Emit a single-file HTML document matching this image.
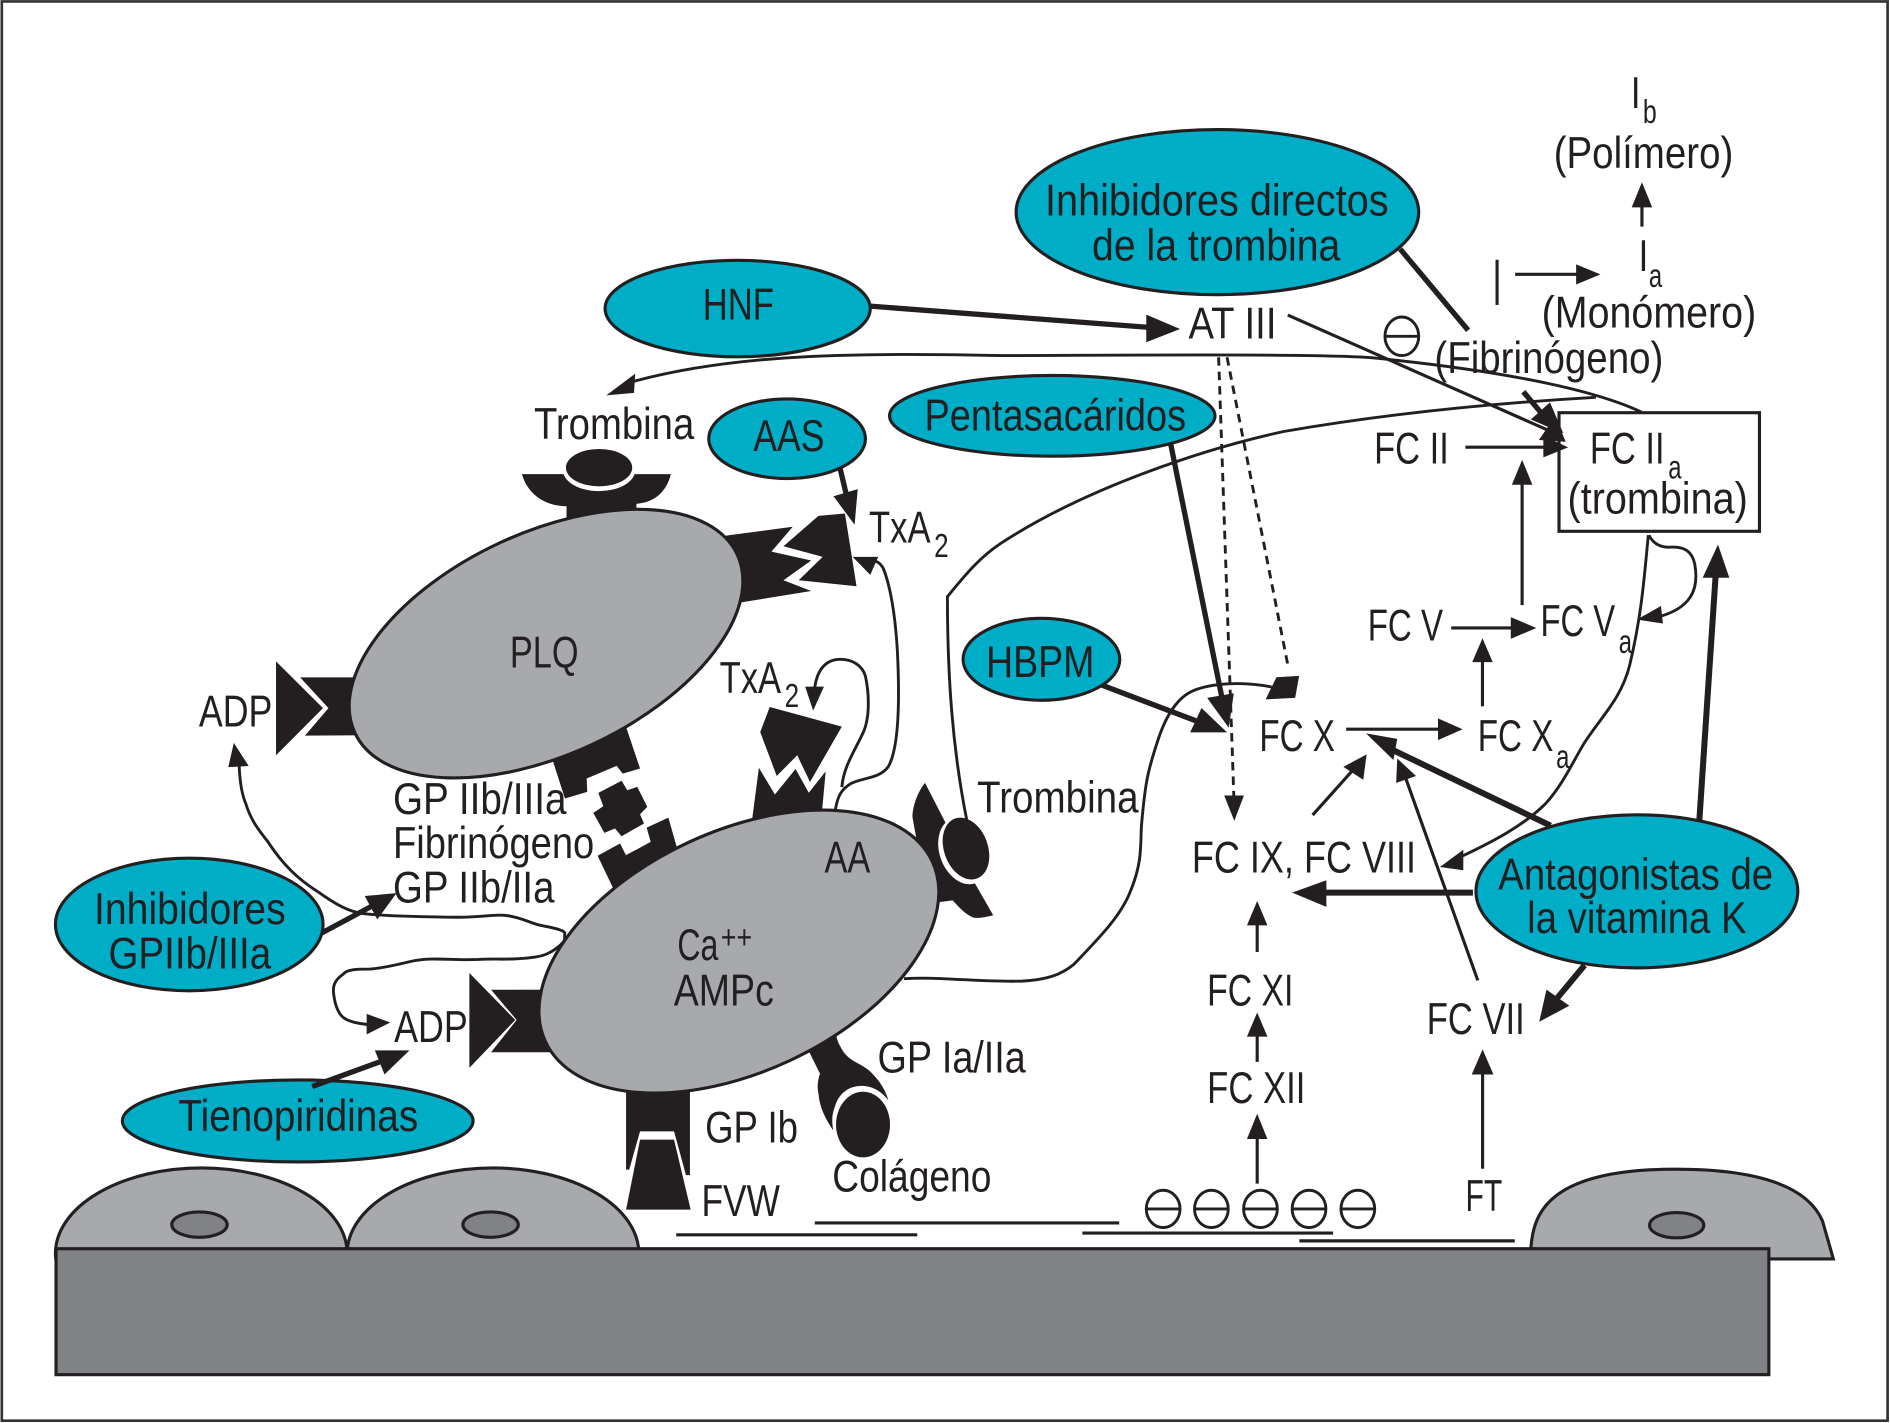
<!DOCTYPE html>
<html lang="es">
<head>
<meta charset="utf-8">
<title>Diagrama de coagulación</title>
<style>
html,body{margin:0;padding:0;background:#fff;}
svg{display:block;width:1890px;height:1423px;}
text{font-family:"Liberation Sans",sans-serif;font-size:37px;fill:#231f20;}
text.s{font-size:28px;}
.k{fill:#231f20;stroke:none;}
.t{fill:none;stroke:#231f20;stroke-width:2.4;}
.m{fill:none;stroke:#231f20;stroke-width:2.6;}
.b{fill:none;stroke:#231f20;stroke-width:4.4;}
.d{fill:none;stroke:#231f20;stroke-width:2.4;stroke-dasharray:7 5;}
.c{fill:#00adc7;stroke:#231f20;stroke-width:2.6;}
.g{fill:#a7a9ac;stroke:#231f20;stroke-width:2.6;}
.n{fill:#808285;stroke:#231f20;stroke-width:2.6;}
.o{fill:none;stroke:#231f20;stroke-width:2.4;}
</style>
</head>
<body>
<svg xmlns="http://www.w3.org/2000/svg" viewBox="0 0 1568 1180.6" preserveAspectRatio="none">
<rect x="0" y="0" width="1568" height="1181" fill="#fff"/>
<rect x="1.5" y="1.2" width="1564.5" height="1177.5" fill="none" stroke="#333" stroke-width="2.2"/>

<!-- endothelium -->
<ellipse class="g" cx="167" cy="1040" rx="121" ry="71"/>
<ellipse class="g" cx="409" cy="1040" rx="121" ry="71"/>
<path class="g" d="M1270 1036C1272 1010 1280 970 1390 970C1460 970 1500 985 1512 1013L1521 1044.5L1467 1044.5Z"/>
<ellipse class="n" cx="165.5" cy="1016" rx="23" ry="10.5"/>
<ellipse class="n" cx="407" cy="1016" rx="23" ry="10.5"/>
<ellipse class="n" cx="1391" cy="1016.5" rx="22.5" ry="10.5"/>
<rect class="n" x="46.5" y="1036" width="1421" height="104.5"/>
<path class="m" d="M561 1024.5H761M676 1014.6H928.5M898 1023H1106M1078 1029.5H1256.7"/>

<!-- negative charges -->
<g class="o">
<ellipse cx="965" cy="1003" rx="14" ry="15.5"/><path d="M951 1003H979"/>
<ellipse cx="1005" cy="1003" rx="14" ry="15.5"/><path d="M991 1003H1019"/>
<ellipse cx="1045.7" cy="1003" rx="14" ry="15.5"/><path d="M1032 1003H1060"/>
<ellipse cx="1086" cy="1003" rx="14" ry="15.5"/><path d="M1072 1003H1100"/>
<ellipse cx="1126.5" cy="1003" rx="14" ry="15.5"/><path d="M1112 1003H1140"/>
<ellipse cx="1163" cy="279" rx="14" ry="16"/><path d="M1149 279H1177"/>
</g>

<!-- receptors behind PLQ -->
<polygon class="k" points="249,562 272.5,587.5 253,610.3 305,610 305,562"/>
<polygon class="k" points="229,548.7 268,587.5 229,626.6"/>
<path class="k" d="M433 393.4L556.6 393.4C553 408 543 417 528 418L528 440L470 440L470 420C450 420 437 408 433 393.4Z"/>
<ellipse cx="497" cy="390" rx="30" ry="17.5" fill="#fff"/>
<ellipse class="k" cx="497" cy="388" rx="27.5" ry="15.5"/>
<polygon class="k" points="603,444.3 657.7,437 640,457.7 673,465 650,481.4 673,490.3 614.8,499.8 590,490 590,450"/>
<polygon class="k" points="679,428 701,426 710.6,486.4 662.6,481.4 682.5,462 650,453.2"/>
<polygon class="k" points="515,590 531,637.6 516.6,641.8 511.6,635.4 486.7,645.9 487.2,657 468.7,662.5 455,620"/>
<polygon class="k" points="515.7,647.8 520.4,655.6 528.7,652.8 537,669.4 531,675.5 534.3,683.2 515.7,693.8 510.2,687.4 501.4,691 492.2,674.4 500.5,668.9 496.4,657.8"/>

<ellipse class="g" cx="453" cy="534" rx="175" ry="92" transform="rotate(-25 453 534)"/>

<!-- receptors behind AA -->
<polygon class="k" points="554.5,678.3 561.4,702.6 568,720 515,750 508.8,737.2 495.8,710 514.4,699.8 519.3,709.5 539.8,698.5 536.5,686.6"/>
<polygon class="k" points="638.6,586.6 698.4,602.9 672,648.8 661.4,626.6 644.4,643.8 630.7,607.4"/>
<polygon class="k" points="629.6,637 642.9,659.2 660,638 671,657.7 685,640 680,695 622,695"/>
<polygon class="k" points="407.4,821.2 428.6,846.2 407.4,873 470,873 470,821"/>
<polygon class="k" points="389.4,807.3 427.5,846.2 389.4,886"/>
<path class="k" d="M767.4 649.5L782.6 679L808.9 733L824 759.3C817 761 812 762 807.5 761.3C800 758 795 752 790.3 747L779.8 748.3L760 745L750 700L760 694.4L757 678C757 668 762 656 767.4 649.5Z"/>
<ellipse cx="799.5" cy="706" rx="20" ry="28.5" fill="#fff" transform="rotate(-20 799.5 706)"/>
<path class="k" d="M668 868L672 874L680.3 890.8C678 897 678 903 679 907C680 920 686 930 691.3 937.8C690 930 690 925 692.7 918C695 910 700 905 706 902.5C716 899 728 901 737 913C735 905 730 897 723 890C715 882 707 882 700 873C697 868 695 865 694 860L688 850Z"/>
<polygon class="k" points="519.4,895 572.4,895 572.4,975 569.1,975 559.2,938.6 531,938.6 522,970.4 519.4,970.4"/>
<polygon class="k" points="531,945.5 559.2,945.5 573,1003.6 519.4,1003.6"/>

<ellipse class="g" cx="613" cy="789.5" rx="177" ry="99.8" transform="rotate(-25 613 789.5)"/>

<ellipse class="k" cx="801.4" cy="704" rx="18.2" ry="26.5" transform="rotate(-20 801.4 704)"/>
<ellipse class="k" cx="716" cy="933" rx="22.4" ry="27.2"/>

<!-- curves -->
<path class="t" d="M1362 342C1320 322 1240 307 1140 297C1100 293 900 295 830 295C720 293 610 292 520 318"/>
<polygon class="k" points="503,328 527,310 526,326"/>
<path class="t" d="M1324 329.6C1230 335 1140 345 1065 358C1000 372 900 405 830 451C812 463 800 478 786 495C786 560 790 620 802 680"/>
<path class="t" d="M750 812C780 810 810 815 848 814C868 813 880 809 891 800C912 778 930 760 938 739C948 715 946 700 947 685C950 650 952 640 961 613C968 592 978 578 990 573C1005 567 1030 565 1055 570"/>
<polygon class="k" points="1059,561.9 1077.8,560.7 1074.5,579 1050,580.2"/>
<path class="t" d="M1367.5 444C1364 480 1362 510 1352 552C1345 580 1328 595 1314 617C1305 632 1296 652 1282 667C1265 684 1240 698 1205 714"/>
<polygon class="k" points="1194.6,719.3 1214,705 1214,722"/>
<path class="t" d="M1368 444C1371 450 1376 454 1385 454C1398 453 1404 458 1406 468C1410 490 1402 505 1375 512"/>
<polygon class="k" points="1358,514 1378,502.8 1379.6,517.3"/>
<path class="t" d="M198.4 635C199 650 201 660 204 667C208 680 214 688 222 698C235 718 248 730 264 740C278 750 290 757 302 758C320 760 360 761 381 761C400 761 412 758 423 760C435 762 442 767 450 768C460 770 470 772 468.5 775C468 780 470 779 465 784C458 790 452 793 444 794C425 797 410 795 397 796C375 797 360 794 344 797C330 800 320 803 307 804C297 804 288 804 285 808C276 814 276 820 277 826C278 834 281 842 286 845C291 848 297 849 305 850"/>
<polygon class="k" points="194,616.3 189.4,636.4 206.3,635.5"/>
<polygon class="k" points="323.8,848.3 304.2,841.2 304.2,858.2"/>
<path class="t" d="M693 672C695 660 698 655 706 650C716 645 730 646 737 636C746 620 746 580 745 552C744 520 740 490 733 472C730 466 726 465 722 465"/>
<polygon class="k" points="707.4,462 728.6,462 722,477"/>
<path class="t" d="M698.4 653C700 636 708 625 716 608C722 595 721 575 718 561C715 551 706 547 697 547C685 547 678 556 676 570"/>
<polygon class="k" points="668,569.7 683.6,569.7 674.6,589.6"/>

<!-- dashed -->
<path class="d" d="M1011 296.4L1023.6 660"/>
<polygon class="k" points="1015.6,660 1032,660 1024,681"/>
<path class="d" d="M1018 296.4L1068.4 551.6"/>

<!-- thick arrows -->
<path class="b" d="M722 254L952 271.5"/><polygon class="k" points="951,261 979,273 951,284"/>
<path class="b" d="M1161.6 206.6L1218 274"/>
<path class="b" d="M970.9 366.6L1014 580"/><polygon class="k" points="1001.5,579 1023.6,575.2 1019.4,603.8"/>
<path class="b" d="M912 567.6L992 598"/><polygon class="k" points="1018,607.6 987.4,607.6 996.8,587.4"/>
<path class="b" d="M696.8 388L703 414"/><polygon class="k" points="709,435.4 691.5,411.7 711.6,405.8"/>
<path class="b" d="M267 774L308 752"/><polygon class="k" points="329,741 302.6,743.4 313,762.8"/>
<path class="b" d="M1409.8 681L1423.5 475" style="stroke-width:5"/><polygon class="k" points="1425.3,451.7 1412.6,479.3 1434.7,479.3"/>
<path class="b" d="M1286.4 685L1155 622" style="stroke-width:5"/><polygon class="k" points="1133.3,608.4 1156,630.5 1159.2,613"/>
<path class="b" d="M1222 740.6H1098" style="stroke-width:5"/><polygon class="k" points="1072,740.6 1100.4,730.3 1100.4,752.4"/>
<path class="b" d="M1314.6 800.8L1292 828" style="stroke-width:5"/><polygon class="k" points="1277,847.7 1283,821 1302,834.4"/>

<!-- thin arrows -->
<path class="m" d="M1068.4 261.4L1284 356.8"/><polygon class="k" points="1299,366.5 1276.7,365 1290,345.7"/>
<path class="b" d="M1263.8 325L1279 343"/><polygon class="k" points="1297,359.6 1270,348 1285.9,333.8"/>
<path class="m" d="M1215.7 371H1282"/><polygon class="k" points="1301,371.2 1280.4,361.5 1280.4,379.5"/>
<path class="m" d="M1262.8 502V400"/><polygon class="k" points="1262.8,381.5 1254.3,402.2 1271.3,402.2"/>
<path class="m" d="M1257 227.6H1310"/><polygon class="k" points="1327.8,227.6 1307.6,219.3 1307.6,236"/>
<path class="m" d="M1362.2 188V170"/><polygon class="k" points="1362.2,151.2 1353.7,172 1370.7,172"/>
<path class="m" d="M1242 215.5V253"/>
<path class="m" d="M1226 813.4L1166 645"/><polygon class="k" points="1159.2,629.3 1158.3,649.5 1174.8,643.8"/>
<path class="m" d="M1089 676.2L1125 636"/><polygon class="k" points="1133.8,625.9 1114.5,636.2 1131,646.9"/>
<path class="m" d="M1116.8 605H1195"/><polygon class="k" points="1213.4,605 1193,596 1193,614"/>
<path class="m" d="M1229.9 586V547"/><polygon class="k" points="1229.9,529.5 1221.4,549.3 1238.4,549.3"/>
<path class="m" d="M1204 521H1255"/><polygon class="k" points="1274.6,521 1253.4,512 1253.4,530"/>
<path class="m" d="M1043 789.8V765"/><polygon class="k" points="1043,747.5 1034.5,767.7 1051.5,767.7"/>
<path class="m" d="M1043 881V858"/><polygon class="k" points="1043,840 1034.5,860 1051.5,860"/>
<path class="m" d="M1043 982V943"/><polygon class="k" points="1043,924 1034.5,945 1051.5,945"/>
<path class="m" d="M1230 969.7V889"/><polygon class="k" points="1230,870.6 1221,891.5 1239,891.5"/>

<!-- teal ellipses -->
<ellipse class="c" cx="1010" cy="176" rx="167" ry="68.5"/>
<ellipse class="c" cx="612" cy="256" rx="110" ry="40"/>
<ellipse class="c" cx="653" cy="364" rx="65" ry="33"/>
<ellipse class="c" cx="873" cy="345" rx="135" ry="33.5"/>
<ellipse class="c" cx="864" cy="547" rx="65" ry="34"/>
<ellipse class="c" cx="157" cy="767" rx="111" ry="55"/>
<ellipse class="c" cx="247" cy="930" rx="145.5" ry="34"/>
<ellipse class="c" cx="1358" cy="739.5" rx="133.5" ry="63.5"/>

<path class="b" d="M259 901.4L315 881"/><polygon class="k" points="339.7,871.5 311,871.5 319,891.5"/>

<!-- FC IIa box -->
<rect x="1293.4" y="342.4" width="166.3" height="98.4" fill="none" stroke="#231f20" stroke-width="2.6"/>

<!-- labels -->
<g>
<text x="867" y="179" textLength="285" lengthAdjust="spacingAndGlyphs">Inhibidores directos</text>
<text x="906" y="216" textLength="206" lengthAdjust="spacingAndGlyphs">de la trombina</text>
<text x="583" y="265" textLength="59" lengthAdjust="spacingAndGlyphs">HNF</text>
<text x="625" y="374" textLength="59" lengthAdjust="spacingAndGlyphs">AAS</text>
<text x="767" y="357" textLength="217" lengthAdjust="spacingAndGlyphs">Pentasacáridos</text>
<text x="818" y="561.5" textLength="90" lengthAdjust="spacingAndGlyphs">HBPM</text>
<text x="78" y="766.5" textLength="159" lengthAdjust="spacingAndGlyphs">Inhibidores</text>
<text x="90" y="803.6" textLength="135" lengthAdjust="spacingAndGlyphs">GPIIb/IIIa</text>
<text x="148" y="938.4" textLength="199" lengthAdjust="spacingAndGlyphs">Tienopiridinas</text>
<text x="1243" y="738" textLength="228" lengthAdjust="spacingAndGlyphs">Antagonistas de</text>
<text x="1267" y="774" textLength="182" lengthAdjust="spacingAndGlyphs">la vitamina K</text>
<text x="986" y="280.7" textLength="73" lengthAdjust="spacingAndGlyphs">AT III</text>
<text x="443" y="364.3" textLength="133" lengthAdjust="spacingAndGlyphs">Trombina</text>
<text x="721" y="450" textLength="51" lengthAdjust="spacingAndGlyphs">TxA</text>
<text class="s" x="775" y="462" textLength="12" lengthAdjust="spacingAndGlyphs">2</text>
<text x="597" y="574.8" textLength="51" lengthAdjust="spacingAndGlyphs">TxA</text>
<text class="s" x="651" y="586.6" textLength="12" lengthAdjust="spacingAndGlyphs">2</text>
<text x="423" y="554" textLength="57" lengthAdjust="spacingAndGlyphs">PLQ</text>
<text x="165" y="602.9" textLength="61" lengthAdjust="spacingAndGlyphs">ADP</text>
<text x="326" y="675.5" textLength="144" lengthAdjust="spacingAndGlyphs">GP IIb/IIIa</text>
<text x="326" y="712" textLength="167" lengthAdjust="spacingAndGlyphs">Fibrinógeno</text>
<text x="326" y="748.7" textLength="134" lengthAdjust="spacingAndGlyphs">GP IIb/IIa</text>
<text x="684" y="723.8" textLength="38" lengthAdjust="spacingAndGlyphs">AA</text>
<text x="562" y="796.5" textLength="34" lengthAdjust="spacingAndGlyphs">Ca</text>
<text class="s" x="598" y="787" textLength="26" lengthAdjust="spacingAndGlyphs">++</text>
<text x="559" y="834.4" textLength="83" lengthAdjust="spacingAndGlyphs">AMPc</text>
<text x="327" y="864.4" textLength="61" lengthAdjust="spacingAndGlyphs">ADP</text>
<text x="585" y="947.7" textLength="77" lengthAdjust="spacingAndGlyphs">GP Ib</text>
<text x="728" y="890" textLength="123" lengthAdjust="spacingAndGlyphs">GP Ia/IIa</text>
<text x="690.5" y="988.7" textLength="132" lengthAdjust="spacingAndGlyphs">Colágeno</text>
<text x="582" y="1008.8" textLength="65" lengthAdjust="spacingAndGlyphs">FVW</text>
<text x="810.6" y="674" textLength="134" lengthAdjust="spacingAndGlyphs">Trombina</text>
<text x="1289" y="139.3" textLength="149" lengthAdjust="spacingAndGlyphs">(Polímero)</text>
<text x="1353" y="89.6" textLength="8" lengthAdjust="spacingAndGlyphs">I</text>
<text class="s" x="1363" y="102" textLength="11.5" lengthAdjust="spacingAndGlyphs">b</text>
<text x="1359.5" y="225" textLength="8" lengthAdjust="spacingAndGlyphs">I</text>
<text class="s" x="1368" y="238" textLength="11" lengthAdjust="spacingAndGlyphs">a</text>
<text x="1279" y="271.8" textLength="178" lengthAdjust="spacingAndGlyphs">(Monómero)</text>
<text x="1190" y="309.4" textLength="190" lengthAdjust="spacingAndGlyphs">(Fibrinógeno)</text>
<text x="1140" y="384.4" textLength="62" lengthAdjust="spacingAndGlyphs">FC II</text>
<text x="1319" y="384.4" textLength="62" lengthAdjust="spacingAndGlyphs">FC II</text>
<text class="s" x="1384" y="397" textLength="11" lengthAdjust="spacingAndGlyphs">a</text>
<text x="1300.5" y="426" textLength="149.5" lengthAdjust="spacingAndGlyphs">(trombina)</text>
<text x="1134.7" y="531.4" textLength="62.5" lengthAdjust="spacingAndGlyphs">FC V</text>
<text x="1278" y="527.6" textLength="62" lengthAdjust="spacingAndGlyphs">FC V</text>
<text class="s" x="1343" y="541.7" textLength="11" lengthAdjust="spacingAndGlyphs">a</text>
<text x="1044.8" y="622.9" textLength="62.6" lengthAdjust="spacingAndGlyphs">FC X</text>
<text x="1226" y="622.9" textLength="62.7" lengthAdjust="spacingAndGlyphs">FC X</text>
<text class="s" x="1291" y="637" textLength="11" lengthAdjust="spacingAndGlyphs">a</text>
<text x="988.8" y="723.8" textLength="186" lengthAdjust="spacingAndGlyphs">FC IX, FC VIII</text>
<text x="1001.5" y="834.4" textLength="71.5" lengthAdjust="spacingAndGlyphs">FC XI</text>
<text x="1001.5" y="915" textLength="81.5" lengthAdjust="spacingAndGlyphs">FC XII</text>
<text x="1183.7" y="858" textLength="81.3" lengthAdjust="spacingAndGlyphs">FC VII</text>
<text x="1215.8" y="1004.7" textLength="30.5" lengthAdjust="spacingAndGlyphs">FT</text>
</g>
</svg>
</body>
</html>
